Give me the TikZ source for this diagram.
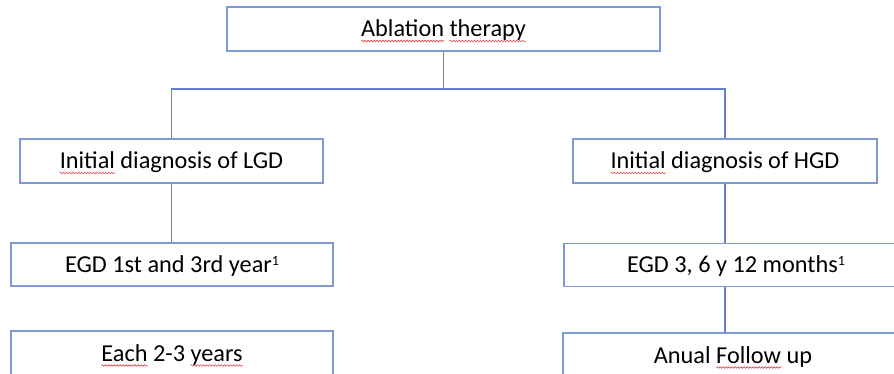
\documentclass[tikz,border=0pt]{standalone}
\usepackage{fontspec}
\setmainfont{Carlito}
\usetikzlibrary{decorations.pathmorphing}
\definecolor{boxblue}{RGB}{128,152,216}
\definecolor{linkblue}{RGB}{100,128,208}
\definecolor{spellred}{RGB}{226,70,70}
\newlength\wwlen
\newcommand{\wavyword}[1]{\settowidth{\wwlen}{#1}\rlap{\tikz[overlay]{\draw[spellred,line width=0.6pt,decorate,decoration={snake,amplitude=0.8pt,segment length=3pt}] (0pt,-4.5pt) -- (\wwlen,-4.5pt);}}#1}
\newcommand{\supone}{\raisebox{7pt}{\fontsize{14}{14}\selectfont 1}}
\tikzset{
  flowbox/.style={draw=boxblue,line width=1.4pt,fill=white,inner sep=0pt,
    text height=15pt,text depth=0pt,font=\fontsize{24.3}{29}\selectfont},
  link/.style={draw=linkblue,line width=1.3pt}
}
\begin{document}
\begin{tikzpicture}[x=1pt,y=-1pt]
\useasboundingbox (0,0) rectangle (894,374);
\clip (0,0) rectangle (894,374);
\node[flowbox,minimum width=433pt,minimum height=44pt] (top) at (443.5,29) {\wavyword{Ablation} \wavyword{therapy}};
\node[flowbox,minimum width=303pt,minimum height=44pt] (lgd) at (171.5,161) {\wavyword{Initial} diagnosis of LGD};
\node[flowbox,minimum width=304pt,minimum height=44pt] (hgd) at (725,161) {\wavyword{Initial} diagnosis of HGD};
\node[flowbox,minimum width=322pt,minimum height=43pt] (egdl) at (172,264.5) {EGD 1st and 3rd year\supone};
\node[flowbox,minimum width=344pt,minimum height=43pt] (egdr) at (736,265) {EGD 3, 6 y 12 months\supone};
\node[flowbox,minimum width=322pt,minimum height=45pt] (eachl) at (172,353.5) {\wavyword{Each} 2-3 \wavyword{years}};
\node[flowbox,minimum width=340pt,minimum height=45pt] (anual) at (733,355.5) {Anual \wavyword{Follow} up};
\coordinate (j) at (443.5,89);
\draw[link] (top.south) -- (j);
\draw[link] (lgd.north) |- (j) -| (hgd.north);
\draw[link] (lgd.south) -- (egdl.north -| lgd.south);
\draw[link] (hgd.south) -- (egdr.north -| hgd.south);
\draw[link] (egdr.south -| hgd.south) -- (anual.north -| hgd.south);
\end{tikzpicture}
\end{document}
